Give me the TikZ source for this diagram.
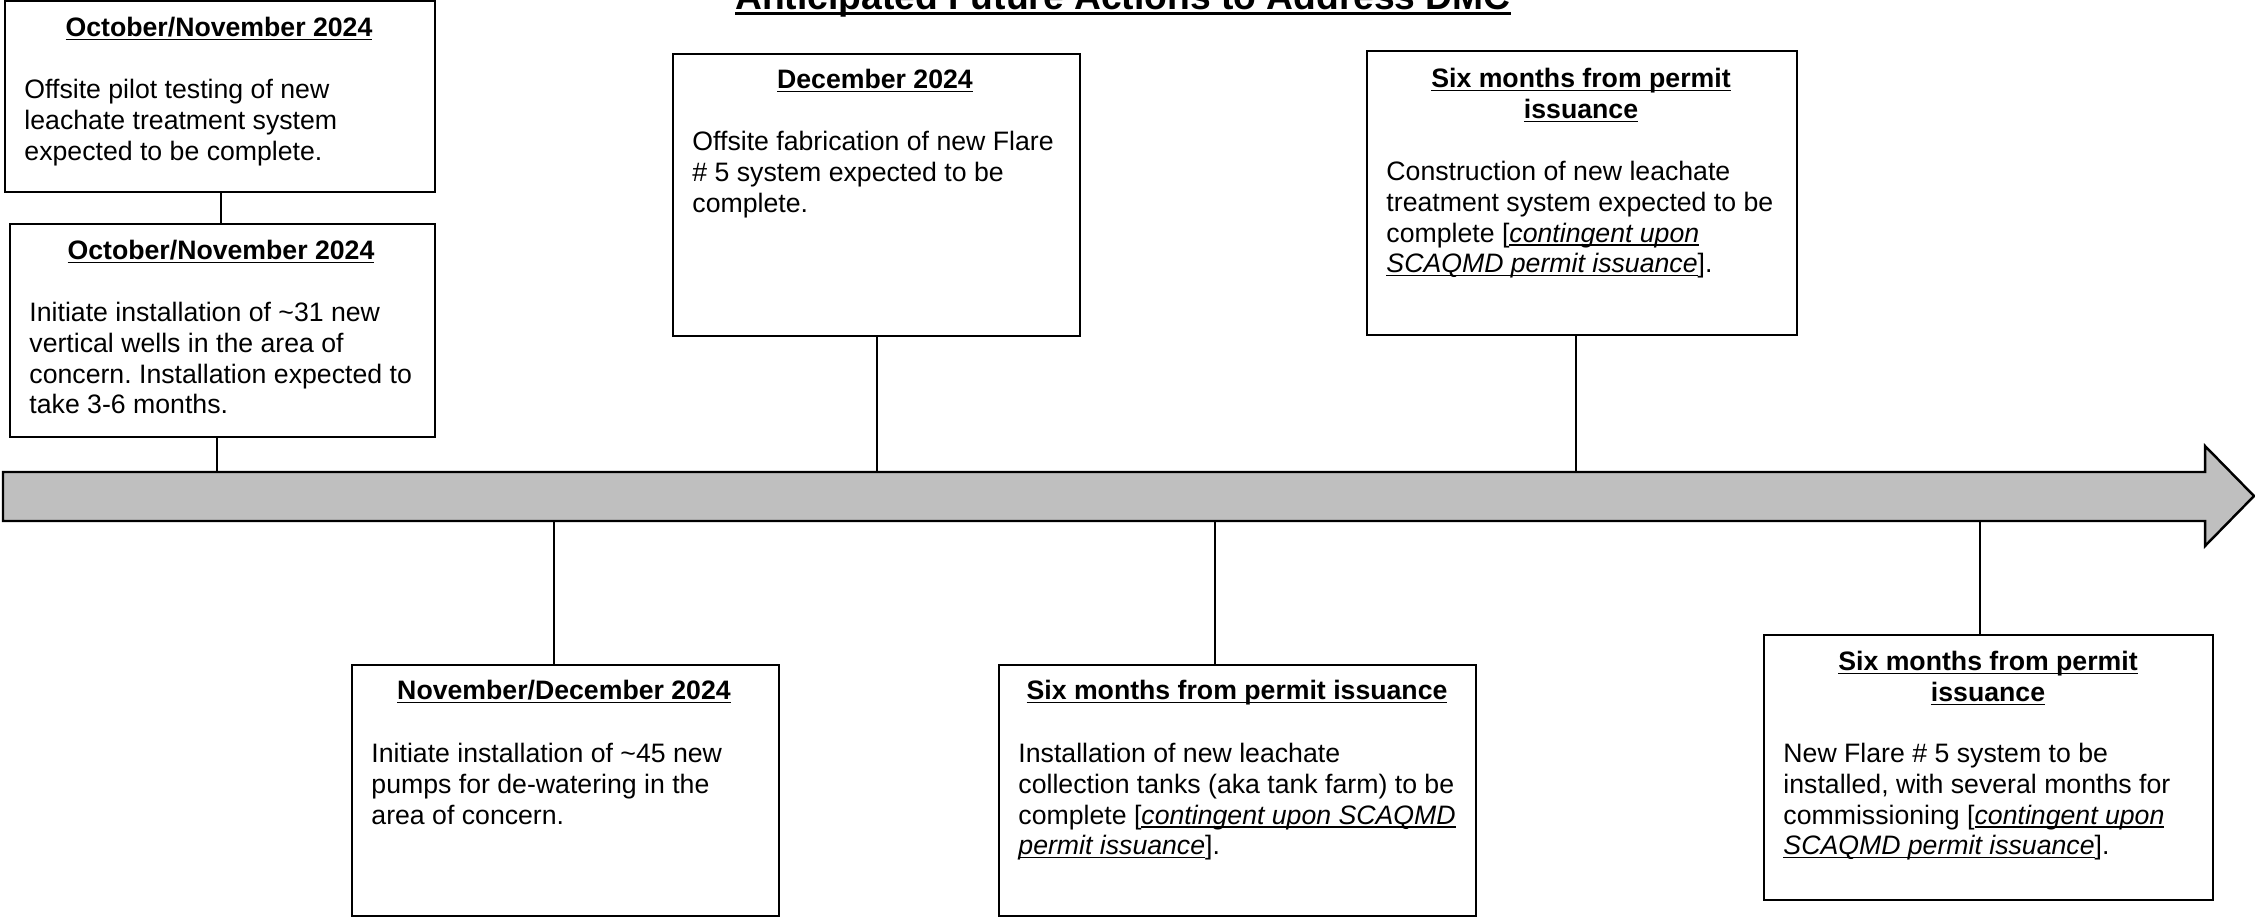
\documentclass[tikz,border=0pt]{standalone}
\usepackage{fontspec}
\setmainfont{Liberation Sans}
\frenchspacing
\newsavebox{\ulbox}
\newcommand{\myul}[1]{\sbox\ulbox{#1}\rlap{\rule[-1.6pt]{\wd\ulbox}{0.65pt}}\usebox\ulbox}
\newcommand{\ttl}[1]{\sbox\ulbox{#1}\rlap{\rule[-2.8pt]{\wd\ulbox}{1.4pt}}\usebox\ulbox}
\begin{document}
\begin{tikzpicture}[x={(0.45pt,0)},y={(0,-0.45pt)},
  box/.style={draw=black,line width=0.9pt,fill=white,rectangle,inner sep=0pt,anchor=north west},
  head/.style={inner sep=0pt,anchor=north,align=center,font=\fontsize{12}{13.8}\selectfont\bfseries},
  body/.style={inner sep=0pt,anchor=north west,align=left,font=\fontsize{12}{13.8}\selectfont},
  conn/.style={draw=black,line width=0.8pt},
  titlestyle/.style={inner sep=0pt,anchor=base,font=\fontsize{16.75}{19}\selectfont\bfseries}]
\useasboundingbox (0,0) rectangle (2255,916);
\fill[white] (0,0) rectangle (2255,916);
% title
\node[titlestyle] (title) at (1123,9) {\ttl{Anticipated Future Actions to Address DMC}};
% timeline arrow
\draw[fill={rgb,255:red,191;green,191;blue,191},line width=1.1pt,line join=miter]
  (3,472) -- (2205,472) -- (2205,446) -- (2254,496) -- (2205,546) -- (2205,521) -- (3,521) -- cycle;
\coordinate (t1) at (217,472);
\coordinate (t3) at (877,472);
\coordinate (t4) at (1576,472);
\coordinate (t5) at (554,521);
\coordinate (t6) at (1215,521);
\coordinate (t7) at (1980,521);
% boxes
\node[box,minimum width={430*0.45pt},minimum height={191*0.45pt}] (b1) at (4,0) {};
\node[box,minimum width={425*0.45pt},minimum height={213*0.45pt}] (b2) at (9,223) {};
\node[box,minimum width={407*0.45pt},minimum height={282*0.45pt}] (b3) at (672,53) {};
\node[box,minimum width={430*0.45pt},minimum height={284*0.45pt}] (b4) at (1366,50) {};
\node[box,minimum width={427*0.45pt},minimum height={251*0.45pt}] (b5) at (351,664) {};
\node[box,minimum width={477*0.45pt},minimum height={251*0.45pt}] (b6) at (998,664) {};
\node[box,minimum width={449*0.45pt},minimum height={265*0.45pt}] (b7) at (1763,634) {};
% connectors
\draw[conn] (221,0 |- b1.south) -- (221,0 |- b2.north);
\draw[conn] (217,0 |- b2.south) -- (t1);
\draw[conn] (877,0 |- b3.south) -- (t3);
\draw[conn] (1576,0 |- b4.south) -- (t4);
\draw[conn] (t5) -- (554,0 |- b5.north);
\draw[conn] (t6) -- (1215,0 |- b6.north);
\draw[conn] (t7) -- (1980,0 |- b7.north);
% texts
\node[head] (h1) at (219,15) {\strut\myul{October/November 2024}};
\node[body] (x1) at (24,77) {\strut Offsite pilot testing of new\\\strut leachate treatment system\\\strut expected to be complete.};
\node[head] (h2) at (221,238) {\strut\myul{October/November 2024}};
\node[body] (x2) at (29,300) {\strut Initiate installation of \textasciitilde31 new\\\strut vertical wells in the area of\\\strut concern. Installation expected to\\\strut take 3-6 months.};
\node[head] (h3) at (875,67) {\strut\myul{December 2024}};
\node[body] (x3) at (692,129) {\strut Offsite fabrication of new Flare\\\strut\# 5 system expected to be\\\strut complete.};
\node[head] (h4) at (1581,66) {\strut\myul{Six months from permit}\\\strut\myul{issuance}};
\node[body] (x4) at (1386,159) {\strut Construction of new leachate\\\strut treatment system expected to be\\\strut complete [\myul{\textit{contingent upon}}\\\strut\myul{\textit{SCAQMD permit issuance}}].};
\node[head] (h5) at (564,678) {\strut\myul{November/December 2024}};
\node[body] (x5) at (371,741) {\strut Initiate installation of \textasciitilde45 new\\\strut pumps for de-watering in the\\\strut area of concern.};
\node[head] (h6) at (1237,678) {\strut\myul{Six months from permit issuance}};
\node[body] (x6) at (1018,741) {\strut Installation of new leachate\\\strut collection tanks (aka tank farm) to be\\\strut complete [\myul{\textit{contingent upon SCAQMD}}\\\strut\myul{\textit{permit issuance}}].};
\node[head] (h7) at (1988,649) {\strut\myul{Six months from permit}\\\strut\myul{issuance}};
\node[body] (x7) at (1783,741) {\strut New Flare \# 5 system to be\\\strut installed, with several months for\\\strut commissioning [\myul{\textit{contingent upon}}\\\strut\myul{\textit{SCAQMD permit issuance}}].};
\end{tikzpicture}
\end{document}
